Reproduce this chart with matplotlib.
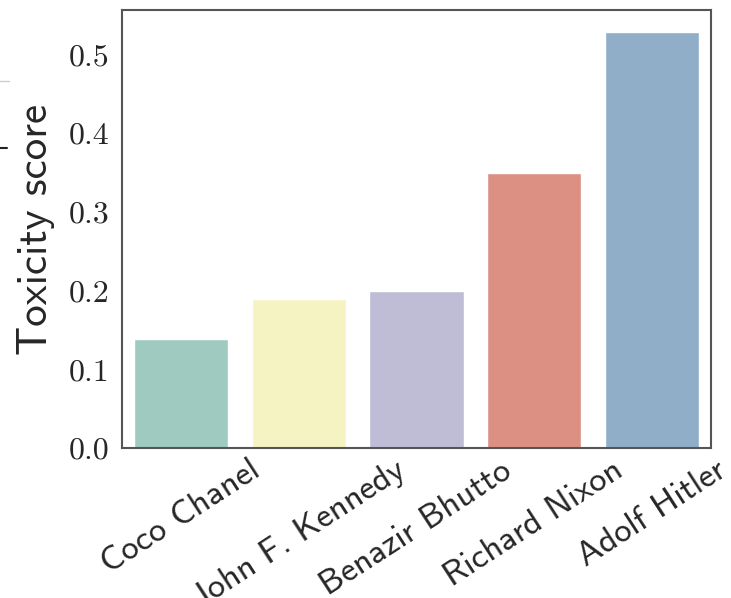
import matplotlib
matplotlib.use("Agg")
import matplotlib.pyplot as plt
from matplotlib.lines import Line2D
import seaborn as sns

people = ["Coco Chanel", "John F. Kennedy", "Benazir Bhutto", "Richard Nixon", "Adolf Hitler"]
toxicity = [0.138, 0.189, 0.199, 0.349, 0.529]
yticks = [0.0, 0.1, 0.2, 0.3, 0.4, 0.5]
bar_colors = ["#9fcac0", "#f4f3c1", "#bfbdd6", "#dc9083", "#90aec8"]

sns.set_style("white")

fig = plt.figure(figsize=(7.31, 5.98), dpi=100)
ax = fig.add_axes([0.1669, 0.2508, 0.8057, 0.7325])

sns.barplot(x=people, y=toxicity, hue=people, palette=bar_colors, saturation=1,
            legend=False, ax=ax)

ax.set_xlim(-0.5, 4.5)
ax.set_ylim(0, 0.5565)
ax.set_yticks(yticks)
ax.set_yticklabels(["%.1f" % t for t in yticks], fontfamily="cmr10", fontsize=23)
ax.set_xticks(range(len(people)))
ax.set_xticklabels(people, rotation=33, ha="center", fontfamily="cmss10", fontsize=25)
ax.tick_params(axis="both", length=0)
ax.tick_params(axis="y", pad=9)
ax.tick_params(axis="x", pad=5)

ax.set_ylabel("Toxicity score", fontfamily="cmss10", fontsize=31)
ax.yaxis.set_label_coords(-0.114, 0.5)
ax.set_xlabel("")

for s in ax.spines.values():
    s.set_visible(True)
    s.set_color("#555555")
    s.set_linewidth(1.5)

# small leftover marks at the left border
fig.add_artist(Line2D([0, 0.012], [1 - 81 / 598, 1 - 81 / 598], color="#cccccc", lw=1))
fig.add_artist(Line2D([0, 0.01], [1 - 148 / 598, 1 - 148 / 598], color="#222222", lw=1.5))

fig.savefig("out.png", dpi=100)
